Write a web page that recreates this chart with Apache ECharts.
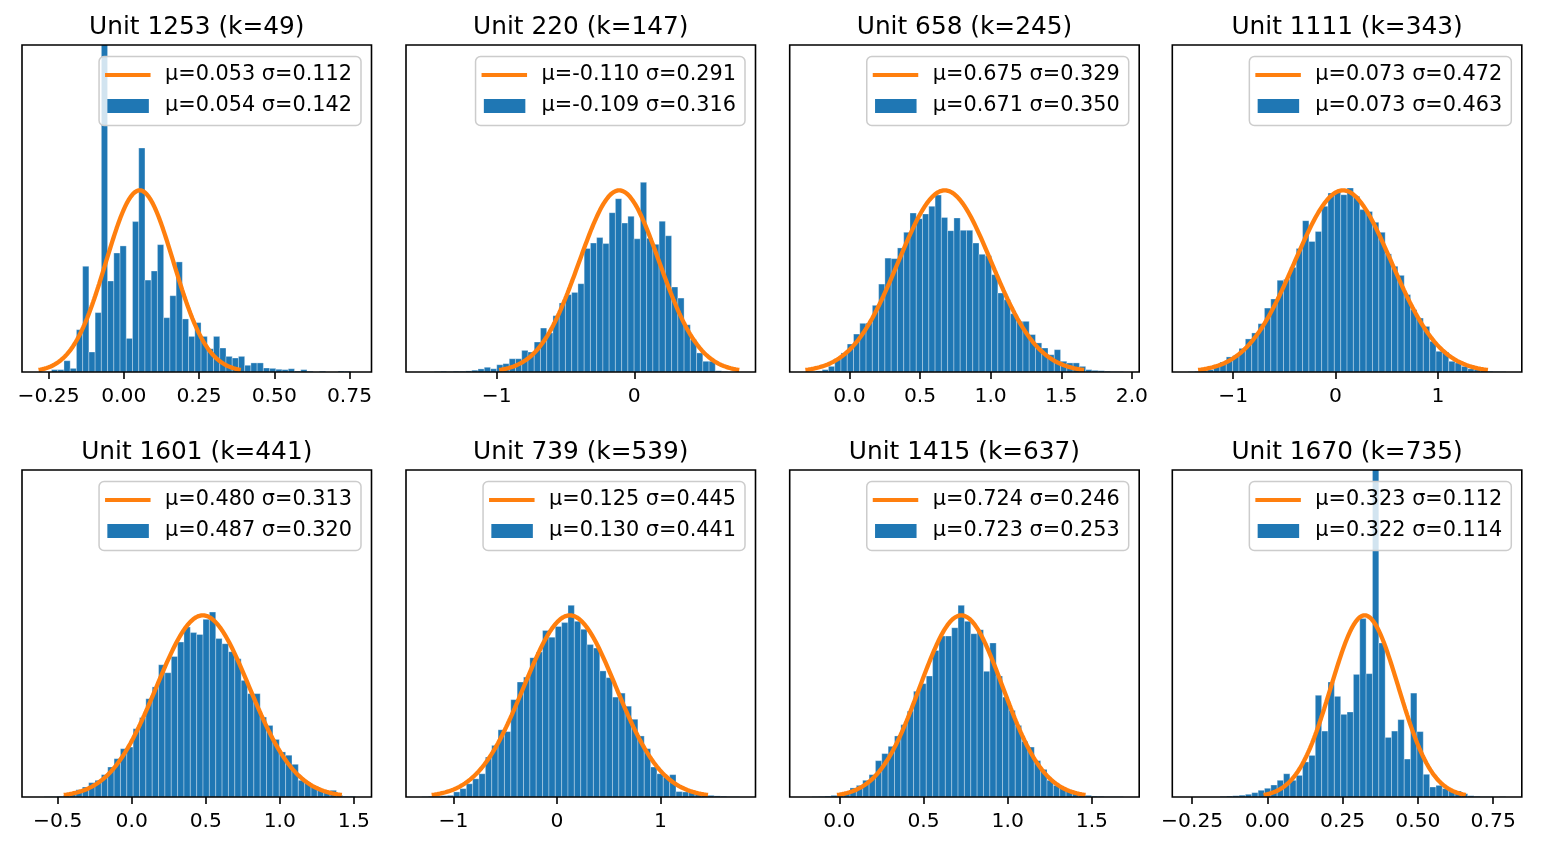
<!DOCTYPE html>
<html><head><meta charset="utf-8">
<script src="https://cdn.jsdelivr.net/npm/echarts@6/dist/echarts.min.js"></script>
<style>html,body{margin:0;padding:0;background:#fff}#c{width:1545px;height:847px}</style>
</head><body><div id="c"></div>
<script>
// ---------------- data ----------------
const titles = ['Unit 1253 (k=49)', 'Unit 220 (k=147)', 'Unit 658 (k=245)', 'Unit 1111 (k=343)',
                'Unit 1601 (k=441)', 'Unit 739 (k=539)', 'Unit 1415 (k=637)', 'Unit 1670 (k=735)'];
const curveMu    = [0.053, -0.110, 0.675, 0.073, 0.480, 0.125, 0.724, 0.323];
const curveSigma = [0.112, 0.291, 0.329, 0.472, 0.313, 0.445, 0.246, 0.112];
const histMu     = [0.054, -0.109, 0.671, 0.073, 0.487, 0.130, 0.723, 0.322];
const histSigma  = [0.142, 0.316, 0.350, 0.463, 0.320, 0.441, 0.253, 0.114];
// histogram bins: first edge and bin width (50 equal bins each)
const binStart = [-0.240, -1.545, -0.282, -1.440, -0.634, -1.305, -0.201, -0.263];
const binWidth = [0.0207, 0.0454, 0.04443, 0.0621, 0.0429, 0.0614, 0.03775, 0.0211];
// bar heights, in units of the fitted curve's peak height
const hist1253 = [0.013,0.013,0.062,0.02,0.233,0.582,0.110,0.327,2.4,0.501,0.655,0.694,0.185,0.828,1.233,0.506,0.556,0.701,0.299,0.420,0.606,0.292,0.196,0.272,0.196,0.128,0.196,0.132,0.086,0.077,0.086,0.037,0.05,0.05,0.022,0.02,0.015,0.013,0.018,0.005,0.013,0.004,0,0.004,0,0,0.005,0.004,0,0];
const hist220  = [0,0,0.002,0.004,0.002,0.004,0.004,0.006,0.01,0.017,0.026,0.018,0.04,0.046,0.073,0.073,0.119,0.11,0.165,0.242,0.215,0.31,0.38,0.426,0.438,0.486,0.68,0.71,0.74,0.707,0.877,0.954,0.82,0.857,0.733,1.044,0.736,0.703,0.83,0.75,0.468,0.407,0.26,0.178,0.105,0.059,0.059,0.007,0.002,0];
const hist658  = [0.002,0.006,0.013,0.031,0.068,0.105,0.154,0.209,0.268,0.27,0.367,0.484,0.627,0.624,0.683,0.769,0.875,0.844,0.87,0.912,0.974,0.851,0.778,0.848,0.78,0.78,0.71,0.648,0.64,0.536,0.435,0.398,0.321,0.279,0.279,0.206,0.16,0.132,0.095,0.123,0.059,0.05,0.05,0.031,0.013,0.009,0.007,0.004,0.002,0.002];
const hist1111 = [0.002,0.004,0.007,0.013,0.031,0.055,0.083,0.09,0.13,0.182,0.215,0.266,0.352,0.402,0.505,0.51,0.576,0.68,0.833,0.719,0.774,0.912,0.985,0.99,0.976,1.013,0.967,0.894,0.884,0.824,0.769,0.65,0.582,0.532,0.426,0.343,0.297,0.251,0.169,0.114,0.11,0.059,0.05,0.031,0.018,0.013,0.007,0.004,0.002,0.002];
const hist1601 = [0,0.002,0.002,0.004,0.009,0.018,0.04,0.055,0.079,0.092,0.123,0.165,0.211,0.266,0.275,0.376,0.437,0.541,0.606,0.728,0.684,0.774,0.853,0.936,0.905,0.895,0.978,1.018,0.872,0.844,0.8,0.761,0.642,0.569,0.569,0.44,0.394,0.317,0.248,0.23,0.18,0.092,0.079,0.055,0.042,0.028,0.037,0.009,0.004,0.004];
const hist739  = [0.002,0.004,0.004,0.007,0.009,0.028,0.046,0.073,0.1,0.128,0.22,0.284,0.37,0.36,0.536,0.633,0.66,0.767,0.798,0.917,0.88,0.939,0.96,1.055,0.967,0.923,0.839,0.82,0.694,0.657,0.55,0.572,0.5,0.428,0.336,0.266,0.165,0.128,0.11,0.123,0.03,0.028,0.024,0.018,0.013,0.009,0.006,0.004,0.002,0.002];
const hist1415 = [0,0.002,0.003,0.005,0.009,0.018,0.028,0.05,0.064,0.092,0.123,0.2,0.239,0.279,0.336,0.398,0.473,0.582,0.624,0.666,0.807,0.886,0.886,0.932,1.055,0.967,0.899,0.921,0.692,0.848,0.666,0.55,0.477,0.394,0.306,0.275,0.2,0.152,0.092,0.064,0.05,0.037,0.028,0.018,0.009,0.005,0.004,0.002,0.002,0.002];
const hist1670 = [0,0,0,0,0,0.003,0.005,0.007,0.01,0.015,0.024,0.037,0.048,0.066,0.092,0.128,0.092,0.119,0.193,0.229,0.56,0.363,0.633,0.554,0.455,0.468,0.675,0.982,0.679,2.4,0.848,0.328,0.363,0.426,0.209,0.572,0.36,0.125,0.055,0.064,0.046,0.037,0.033,0.018,0.007,0.004,0.002,0.002,0,0.002];
const histHeights = [hist1253, hist220, hist658, hist1111, hist1601, hist739, hist1415, hist1670];
// x axis ranges and tick labels
const xMin = [-0.338, -1.660, -0.423, -1.595, -0.741, -1.458, -0.295, -0.316];
const xMax = [0.823, 0.881, 2.052, 1.820, 1.619, 1.919, 1.781, 0.845];
const xTicks = [[-0.25,0,0.25,0.5,0.75], [-1,0], [0,0.5,1,1.5,2], [-1,0,1],
                [-0.5,0,0.5,1,1.5], [-1,0,1], [0,0.5,1,1.5], [-0.25,0,0.25,0.5,0.75]];
const tickDecimals = [2, 0, 1, 0, 1, 0, 1, 2];
const yTop = 1.8; // axis top, relative to the curve peak

// ---------------- layout / style ----------------
const BLUE = '#1f77b4', ORANGE = '#ff7f0e';
const FONT = 'DejaVu Sans';
const colLeft = [22, 406, 789.7, 1172.3];
const rowTop = [45, 470];
const GW = 349.5, GH = 327;
const W = 1545;
const LINE_ICON = 'path://M0,0l0.01,0l-0.01,0.01z M55,14l-0.01,0l0.01,-0.01z M0,4.9H45.5V9.1H0z';
const RECT_ICON = 'path://M0,0l0.01,0l-0.01,0.01z M55,14l-0.01,0l0.01,-0.01z M2.3,0H43.8V14H2.3z';

function fmt(v, d) { return v.toFixed(d).replace('-', '\u2212'); }
function legendName(mu, s) { return 'μ=' + mu.toFixed(3) + ' σ=' + s.toFixed(3); }

const grids = [], xAxes = [], yAxes = [], series = [], legends = [], titleOpts = [];
for (let i = 0; i < 8; i++) {
  const left = colLeft[i % 4], top = rowTop[Math.floor(i / 4)];
  grids.push({ left: left, top: top, width: GW, height: GH, show: true, z: 10,
    backgroundColor: 'rgba(0,0,0,0)', borderColor: '#000', borderWidth: 1.6,
    containLabel: false, outerBoundsMode: 'none' });
  const d = tickDecimals[i];
  xAxes.push({ type: 'value', gridIndex: i, min: xMin[i], max: xMax[i],
    axisLine: { show: false }, splitLine: { show: false },
    axisTick: { show: true, inside: false, length: 7, customValues: xTicks[i], lineStyle: { color: '#000', width: 1.6 } },
    axisLabel: { show: true, customValues: xTicks[i], margin: 14.5, fontSize: 20.3, fontFamily: FONT, color: '#000',
      formatter: (v) => fmt(v, d) } });
  yAxes.push({ type: 'value', gridIndex: i, min: 0, max: yTop, show: false });

  const bars = histHeights[i].map((h, k) => [binStart[i] + k * binWidth[i], binStart[i] + (k + 1) * binWidth[i], h]);
  const hName = legendName(histMu[i], histSigma[i]);
  const cName = legendName(curveMu[i], curveSigma[i]);
  series.push({ type: 'custom', name: hName, xAxisIndex: i, yAxisIndex: i, clip: true, z: 2,
    itemStyle: { color: BLUE }, encode: { x: [0, 1], y: 2 }, data: bars,
    renderItem: function (params, api) {
      const a = api.coord([api.value(0), 0]);
      const b = api.coord([api.value(1), api.value(2)]);
      return { type: 'rect', shape: { x: a[0], y: b[1], width: b[0] - a[0], height: a[1] - b[1] },
        style: { fill: BLUE, stroke: 'rgba(255,255,255,0.4)', lineWidth: 0.8 } };
    } });
  // fitted normal curve (mu ± 3 sigma), scaled to peak = 1
  const mu = curveMu[i], s = curveSigma[i], pts = [];
  for (let j = 0; j <= 200; j++) {
    const x = mu - 3 * s + j * 6 * s / 200;
    pts.push([x, Math.exp(-(x - mu) * (x - mu) / (2 * s * s))]);
  }
  series.push({ type: 'line', name: cName, xAxisIndex: i, yAxisIndex: i, data: pts, clip: true, z: 3,
    showSymbol: false, symbol: 'none', smooth: false,
    lineStyle: { color: ORANGE, width: 4.3 }, itemStyle: { color: ORANGE } });

  legends.push({ orient: 'vertical', right: W - (left + GW - 10.5), top: top + 11.5,
    data: [ { name: cName, icon: LINE_ICON, itemStyle: { color: ORANGE, borderWidth: 0 } },
            { name: hName, icon: RECT_ICON, itemStyle: { color: BLUE, borderWidth: 0 } } ],
    itemWidth: 55, itemHeight: 14, itemGap: 10, padding: [8, 9, 9, 6],
    backgroundColor: 'rgba(255,255,255,0.8)', borderColor: '#cccccc', borderWidth: 1.5, borderRadius: 5,
    textStyle: { fontSize: 20.8, fontFamily: FONT, color: '#000' }, selectedMode: false });

  titleOpts.push({ text: titles[i], left: left + GW / 2, top: top - 30, textAlign: 'center', padding: 0,
    textStyle: { fontSize: 24.8, fontWeight: 'normal', fontFamily: FONT, color: '#000' } });
}

const chart = echarts.init(document.getElementById('c'), null, { renderer: 'canvas' });
chart.setOption({ animation: false, backgroundColor: '#fff', title: titleOpts, grid: grids,
  xAxis: xAxes, yAxis: yAxes, legend: legends, series: series, tooltip: { show: false } });
</script></body></html>
